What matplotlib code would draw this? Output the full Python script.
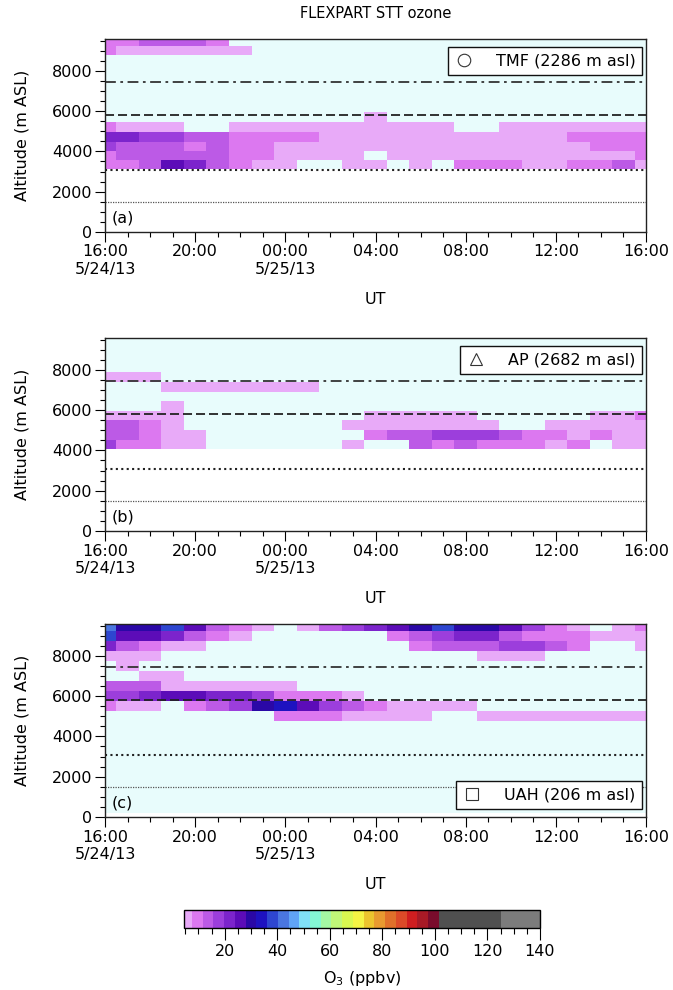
import numpy as np
import matplotlib
matplotlib.use('Agg')
import matplotlib.pyplot as plt
from matplotlib.colors import ListedColormap, BoundaryNorm
from matplotlib.cm import ScalarMappable
from matplotlib.lines import Line2D
from matplotlib.ticker import MultipleLocator

plt.rcParams['font.family'] = ['DejaVu Sans']
plt.rcParams['font.size'] = 11

# hours after 16:00 UT on 5/24/13 (one column per hour)
hours = np.arange(0, 25)
x_tick_hours = [0, 4, 8, 12, 16, 20, 24]
x_tick_labels = ['16:00\n5/24/13', '20:00', '00:00\n5/25/13', '04:00',
                 '08:00', '12:00', '16:00']

# reference altitudes drawn in every panel (m ASL)
ref_alts = [1490, 3100, 5800, 7440]

# colour table of the O3 colour bar (ppbv)
o3_colors = ['#e8aaf8', '#dc78f0', '#bc5ae6', '#9c3edc', '#7c24cc', '#5c0cb8',
             '#2a08a6', '#1e12c0', '#2e46d0', '#4a76e0', '#60a4f6', '#80e0f8',
             '#84f8d4', '#a4f8a4', '#c0f878', '#d8f850', '#f4f444', '#ecc42e',
             '#e89a30', '#e0702a', '#dc4a28', '#d01e20', '#a81a26', '#7a0c2c',
             '#505050', '#7c7c7c']
o3_bounds = [4.5] + list(np.linspace(7.5, 101.5, 24)) + [125, 140]
zero_color = '#e8fcfc'

# TMF (2286 m asl): altitude bin edges and STT ozone, rows bottom -> top
tmf_edges = [3110, 3560, 4020, 4470, 4970, 5460, 5960, 8775, 9240, 9580]
tmf_o3 = [
    [10, 10, 14, 26, 22, 14, 10, 6, 6, 0, 0, 6, 6, 0, 6, 0, 10, 10, 10, 6, 6, 10, 10, 14, 6],
    [10, 14, 14, 14, 14, 14, 10, 10, 6, 6, 6, 6, 0, 6, 6, 6, 6, 6, 6, 6, 6, 6, 6, 6, 10],
    [18, 14, 14, 14, 10, 14, 10, 10, 6, 6, 6, 6, 6, 6, 6, 6, 6, 6, 6, 6, 6, 6, 10, 10, 10],
    [22, 22, 18, 18, 14, 14, 10, 10, 10, 10, 6, 6, 6, 6, 6, 6, 6, 6, 6, 6, 6, 10, 10, 10, 10],
    [10, 6, 6, 6, 0, 0, 6, 6, 6, 6, 6, 6, 6, 6, 6, 6, 0, 0, 6, 6, 6, 6, 6, 6, 6],
    [0, 0, 0, 0, 0, 0, 0, 0, 0, 0, 0, 0, 6, 0, 0, 0, 0, 0, 0, 0, 0, 0, 0, 0, 0],
    [0, 0, 0, 0, 0, 0, 0, 0, 0, 0, 0, 0, 0, 0, 0, 0, 0, 0, 0, 0, 0, 0, 0, 0, 0],
    [10, 6, 6, 6, 6, 6, 6, 0, 0, 0, 0, 0, 0, 0, 0, 0, 0, 0, 0, 0, 0, 0, 0, 0, 0],
    [10, 10, 14, 14, 14, 10, 0, 0, 0, 0, 0, 0, 0, 0, 0, 0, 0, 0, 0, 0, 0, 0, 0, 0, 0],
]

# AP (2682 m asl)
ap_edges = [4070, 4530, 4995, 5490, 5940, 6440, 6920, 7395, 7870, 9580]
ap_o3 = [
    [18, 10, 10, 6, 6, 0, 0, 0, 0, 0, 0, 6, 0, 0, 14, 10, 14, 10, 10, 10, 6, 10, 0, 6, 6],
    [14, 14, 10, 6, 6, 0, 0, 0, 0, 0, 0, 0, 10, 14, 14, 18, 18, 18, 14, 10, 10, 6, 10, 6, 6],
    [14, 14, 10, 6, 0, 0, 0, 0, 0, 0, 0, 6, 6, 6, 6, 6, 6, 6, 0, 0, 6, 6, 6, 6, 6],
    [6, 6, 6, 6, 0, 0, 0, 0, 0, 0, 0, 0, 6, 6, 6, 6, 6, 0, 0, 0, 0, 0, 6, 6, 10],
    [0, 0, 0, 6, 0, 0, 0, 0, 0, 0, 0, 0, 0, 0, 0, 0, 0, 0, 0, 0, 0, 0, 0, 0, 0],
    [0, 0, 0, 0, 0, 0, 0, 0, 0, 0, 0, 0, 0, 0, 0, 0, 0, 0, 0, 0, 0, 0, 0, 0, 0],
    [0, 0, 0, 6, 6, 6, 6, 6, 6, 6, 0, 0, 0, 0, 0, 0, 0, 0, 0, 0, 0, 0, 0, 0, 0],
    [6, 6, 6, 0, 0, 0, 0, 0, 0, 0, 0, 0, 0, 0, 0, 0, 0, 0, 0, 0, 0, 0, 0, 0, 0],
    [0, 0, 0, 0, 0, 0, 0, 0, 0, 0, 0, 0, 0, 0, 0, 0, 0, 0, 0, 0, 0, 0, 0, 0, 0],
]

# UAH (206 m asl)
uah_edges = [210, 4770, 5265, 5760, 6240, 6740, 7250, 7750, 8250, 8740, 9240, 9580]
uah_o3 = [
    [0, 0, 0, 0, 0, 0, 0, 0, 0, 0, 0, 0, 0, 0, 0, 0, 0, 0, 0, 0, 0, 0, 0, 0, 0],
    [0, 0, 0, 0, 0, 0, 0, 0, 10, 10, 10, 6, 6, 6, 6, 0, 0, 6, 6, 6, 6, 6, 6, 6, 6],
    [10, 6, 6, 0, 10, 14, 18, 30, 34, 26, 18, 14, 10, 6, 6, 6, 6, 0, 0, 0, 0, 0, 0, 0, 0],
    [18, 18, 22, 26, 26, 22, 22, 18, 10, 10, 10, 6, 0, 0, 0, 0, 0, 0, 0, 0, 0, 0, 0, 0, 0],
    [14, 14, 14, 6, 6, 6, 6, 6, 6, 0, 0, 0, 0, 0, 0, 0, 0, 0, 0, 0, 0, 0, 0, 0, 0],
    [0, 0, 6, 6, 0, 0, 0, 0, 0, 0, 0, 0, 0, 0, 0, 0, 0, 0, 0, 0, 0, 0, 0, 0, 0],
    [0, 6, 0, 0, 0, 0, 0, 0, 0, 0, 0, 0, 0, 0, 0, 0, 0, 0, 0, 0, 0, 0, 0, 0, 0],
    [6, 6, 6, 0, 0, 0, 0, 0, 0, 0, 0, 0, 0, 0, 0, 0, 0, 6, 6, 6, 0, 0, 0, 0, 0],
    [22, 14, 10, 6, 6, 0, 0, 0, 0, 0, 0, 0, 0, 0, 10, 14, 14, 14, 18, 18, 14, 10, 0, 0, 6],
    [38, 26, 26, 22, 14, 10, 6, 0, 0, 0, 0, 0, 0, 10, 14, 18, 22, 22, 14, 10, 10, 10, 6, 6, 6],
    [42, 30, 30, 38, 26, 14, 10, 6, 0, 6, 14, 18, 22, 26, 30, 38, 30, 30, 26, 18, 10, 6, 0, 6, 10],
]

stations = ['TMF (2286 m asl)', 'AP (2682 m asl)', 'UAH (206 m asl)']
markers = ['o', '^', 's']
panel_tags = ['(a)', '(b)', '(c)']


def main():
    cmap = ListedColormap(o3_colors)
    cmap.set_under(zero_color)
    norm = BoundaryNorm(o3_bounds, cmap.N)

    W, H = 673, 990
    fig = plt.figure(figsize=(W / 100, H / 100), dpi=100)

    # axes boxes in pixels: (top, bottom)
    boxes = [(39, 232), (338, 531), (624, 817)]
    left, right = 105, 646

    x_edges = np.append(hours - 0.5, hours[-1] + 0.5)
    panels = [(tmf_edges, tmf_o3), (ap_edges, ap_o3), (uah_edges, uah_o3)]
    legend_pos = [('upper right', (0.993, 0.96)), ('upper right', (0.993, 0.96)),
                  ('lower right', (0.993, 0.04))]
    line_styles = [dict(ls=(0, (1, 1)), lw=0.9, color='#555555'),
                   dict(ls=(0, (1, 1.6)), lw=1.5, color='#222222'),
                   dict(ls=(0, (5, 2.2)), lw=1.3, color='#222222'),
                   dict(ls=(0, (6, 2.5, 1.5, 2.5)), lw=1.3, color='#333333')]

    for i, (edges, o3) in enumerate(panels):
        top, bot = boxes[i]
        ax = fig.add_axes([left / W, 1 - bot / H, (right - left) / W, (bot - top) / H])
        ax.pcolormesh(x_edges, edges, np.array(o3, dtype=float), cmap=cmap, norm=norm,
                      shading='flat', edgecolors='none', antialiased=False)
        for alt, st in zip(ref_alts, line_styles):
            ax.axhline(alt, **st)

        ax.set_xlim(0, 24)
        ax.set_ylim(0, 9580)
        ax.set_xticks(x_tick_hours)
        ax.set_xticklabels(x_tick_labels)
        ax.xaxis.set_minor_locator(MultipleLocator(1))
        ax.set_yticks([0, 2000, 4000, 6000, 8000])
        ax.yaxis.set_minor_locator(MultipleLocator(500))
        ax.tick_params(which='major', length=7, width=0.8, direction='out', pad=2,
                       labelsize=11.5)
        ax.tick_params(which='minor', length=3.5, width=0.8, direction='out')
        for sp in ax.spines.values():
            sp.set_linewidth(1.0)
            sp.set_color('#222222')

        ax.set_xlabel('UT', fontsize=11.5)
        ax.xaxis.set_label_coords(0.5, -0.31)
        ax.set_ylabel('Altitude (m ASL)', fontsize=11.5)
        ax.yaxis.set_label_coords(-0.14, 0.5)

        ax.text(0.012, 0.035, panel_tags[i], transform=ax.transAxes,
                ha='left', va='bottom', fontsize=11.5)

        # station legend box with an open marker
        handle = Line2D([], [], marker=markers[i], ls='none', mfc='none',
                        mec='#333333', mew=0.8, ms=9)
        loc, anchor = legend_pos[i]
        leg = ax.legend([handle], [stations[i]], loc=loc, bbox_to_anchor=anchor,
                        borderaxespad=0, frameon=True, fancybox=False, framealpha=1,
                        edgecolor='#111111', fontsize=11.5, handlelength=1.2,
                        handletextpad=1.4, borderpad=0.42)
        leg.get_frame().set_linewidth(1.0)

    fig.text(376 / W, 1 - 13 / H, 'FLEXPART STT ozone', ha='center', va='center',
             fontsize=10.5)

    # colour bar
    cax = fig.add_axes([184 / W, 1 - 928 / H, 356 / W, 18 / H])
    sm = ScalarMappable(norm=norm, cmap=cmap)
    cb = fig.colorbar(sm, cax=cax, orientation='horizontal', spacing='proportional',
                      ticks=[20, 40, 60, 80, 100, 120, 140])
    cb.outline.set_linewidth(1.0)
    cax.xaxis.set_minor_locator(MultipleLocator(5))
    cax.tick_params(which='major', length=8.5, width=0.8, pad=3, labelsize=11.5)
    cax.tick_params(which='minor', length=4, width=0.8)
    cb.set_label('O$_3$ (ppbv)', fontsize=11.5)
    cax.xaxis.set_label_coords(0.5, -2.3)

    fig.savefig('out.png', dpi=100)


if __name__ == "__main__":
    main()
